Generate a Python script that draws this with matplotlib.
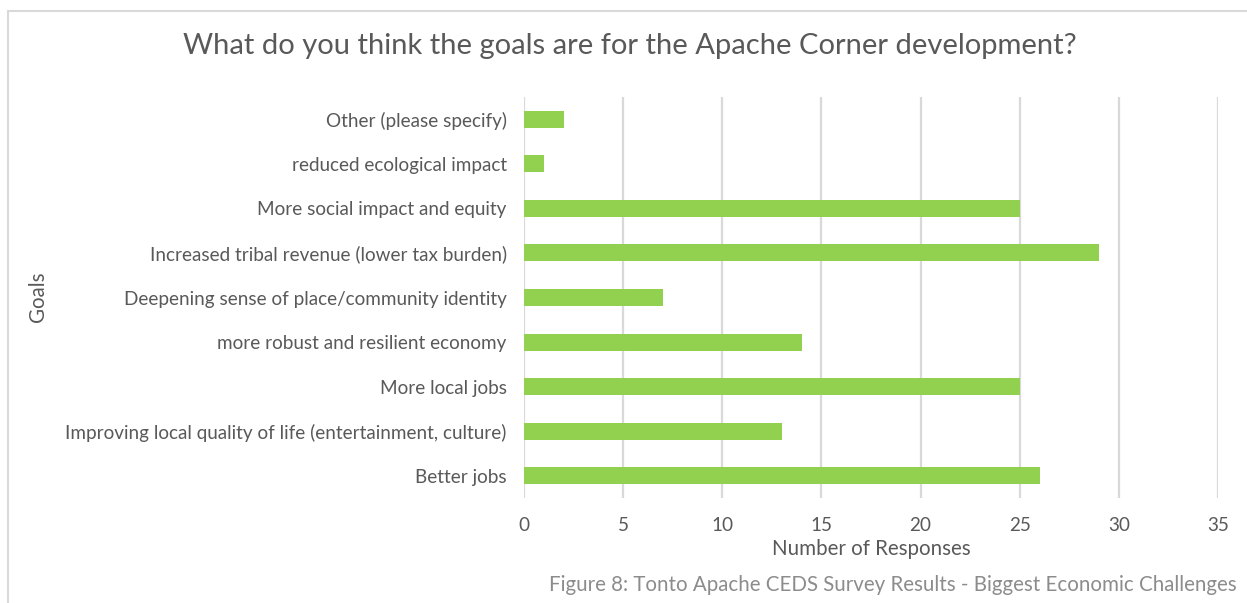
import matplotlib
matplotlib.use("Agg")
import matplotlib.pyplot as plt
from matplotlib.lines import Line2D

plt.rcParams['font.family'] = ['Lato', 'DejaVu Sans']

goals = [
    "Better jobs",
    "Improving local quality of life (entertainment, culture)",
    "More local jobs",
    "more robust and resilient economy",
    "Deepening sense of place/community identity",
    "Increased tribal revenue (lower tax burden)",
    "More social impact and equity",
    "reduced ecological impact",
    "Other (please specify)",
]
responses = [26, 13, 25, 14, 7, 29, 25, 1, 2]
x_ticks = [0, 5, 10, 15, 20, 25, 30, 35]

title = "What do you think the goals are for the Apache Corner development?"
caption = "Figure 8: Tonto Apache CEDS Survey Results - Biggest Economic Challenges"

text_col = "#595959"
grid_col = "#D9D9D9"
bar_col = "#92D050"

W, H = 1247, 603
fig = plt.figure(figsize=(W / 100, H / 100), dpi=100)
fig.patch.set_facecolor("white")

ax = fig.add_axes([524 / W, 1 - 498 / H, (1218 - 524) / W, (498 - 97) / H])
ax.barh(range(len(goals)), responses, height=0.38, color=bar_col, zorder=3)

ax.set_xlim(0, 35)
ax.set_ylim(-0.5, len(goals) - 0.5)
ax.set_xticks(x_ticks)
ax.set_yticks(range(len(goals)))
ax.set_yticklabels(goals)
ax.tick_params(axis="both", length=0, labelsize=13.6, labelcolor=text_col)
ax.tick_params(axis="x", pad=14)
ax.tick_params(axis="y", pad=12.5)
for s in ax.spines.values():
    s.set_visible(False)
ax.grid(axis="x", color=grid_col, linewidth=1.6, zorder=0)

ax.set_xlabel("Number of Responses", fontsize=14.8, color=text_col, labelpad=3)
fig.text(38 / W, 1 - 297 / H, "Goals", rotation=90, fontsize=14.8,
         color=text_col, ha="center", va="center")

fig.text(630 / W, 1 - 46 / H, title, fontsize=21, color=text_col,
         ha="center", va="center")
fig.text(1237 / W, 1 - 585 / H, caption, fontsize=14.8, color="#8C8C8C",
         ha="right", va="center")

# chart frame (top and left edges)
fig.add_artist(Line2D([7.5 / W, 7.5 / W], [0, 1 - 11 / H], color="#D9D9D9",
                      linewidth=1.5, transform=fig.transFigure))
fig.add_artist(Line2D([7.5 / W, 1], [1 - 11 / H, 1 - 11 / H], color="#D9D9D9",
                      linewidth=1.5, transform=fig.transFigure))

fig.savefig("out.png", dpi=100)
